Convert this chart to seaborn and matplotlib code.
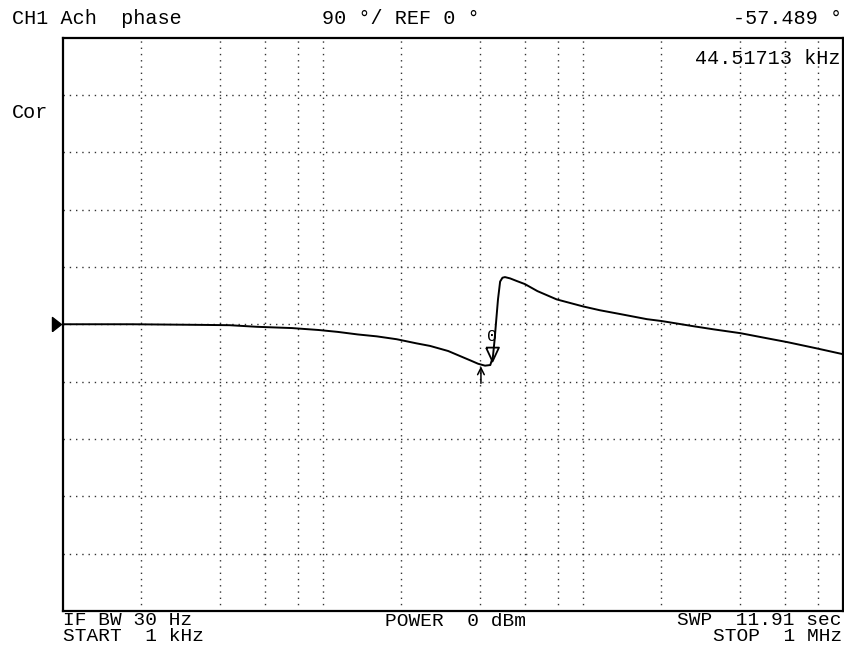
import matplotlib
matplotlib.use("Agg")
import matplotlib.pyplot as plt
import matplotlib.transforms as mtransforms
from matplotlib.ticker import NullLocator
import numpy as np
import pandas as pd
import seaborn as sns

# Phase sweep of channel 1, 1 kHz .. 1 MHz (log), 90 deg/div, ref 0 deg
freq_khz = [1.0, 1.84, 3.42, 4.38, 5.57, 7.6, 9.6, 11.4, 13.6, 16.1, 19.2,
            22.9, 25.8, 30.3, 33.7, 37.0, 39.5, 42.0, 44.0, 44.51713, 45.0,
            45.7, 46.3, 47.1, 48.0, 49.0, 50.1, 52.4, 55.5, 59.8, 66.8, 79.2,
            100.0, 116.0, 139.0, 176.0, 201.0, 265.0, 318.0, 403.0, 510.0,
            610.0, 795.0, 1000.0]
phase_deg = [0.0, 0.0, -1.0, -1.5, -4.0, -6.0, -9.0, -12.0, -16.0, -19.0,
             -23.5, -30.0, -34.0, -42.0, -50.0, -57.0, -62.0, -65.0, -64.0,
             -57.489, -52.0, -25.0, 3.0, 39.0, 67.0, 73.0, 74.0, 72.0, 68.0,
             63.0, 52.0, 39.0, 28.0, 22.0, 16.0, 8.0, 5.0, -3.0, -8.0, -14.0,
             -22.0, -28.0, -38.0, -47.0]

# Marker readout
marker_freq_khz = 44.51713
marker_phase_deg = -57.489
search_freq_khz = 40.5
search_phase_deg = -66.0

# Graticule
grid_freqs_khz = [2, 4, 6, 8, 10, 20, 40, 60, 80, 100, 200, 400, 600, 800]
grid_phases = [-360, -270, -180, -90, 0, 90, 180, 270, 360]

sns.set_style("white")
plt.rcParams["font.family"] = ["Liberation Mono", "DejaVu Sans Mono"]

W, H = 845, 648
FS = 14.5
fig = plt.figure(figsize=(W / 100, H / 100), dpi=100)
ax = fig.add_axes([63 / W, 1 - 611.0 / H, 780 / W, 573.5 / H])

df = pd.DataFrame({"freq": freq_khz, "phase": phase_deg})
sns.lineplot(data=df, x="freq", y="phase", ax=ax, color="black",
             linewidth=1.4, estimator=None, sort=False)

ax.set_xscale("log")
ax.set_xlim(1, 1000)
ax.set_ylim(-450, 450)
ax.xaxis.set_major_locator(NullLocator())
ax.xaxis.set_minor_locator(NullLocator())
ax.yaxis.set_major_locator(NullLocator())
ax.set_xlabel("")
ax.set_ylabel("")

dots = (0, (1, 3.5))
for f in grid_freqs_khz:
    ax.axvline(f, ls=dots, lw=1.0, color="#333333", zorder=1)
for p in grid_phases:
    ax.axhline(p, ls=dots, lw=1.0, color="#333333", zorder=1)

for s in ax.spines.values():
    s.set_visible(True)
    s.set_color("black")
    s.set_linewidth(1.6)

# Reference-level pointer at the left edge
blend = mtransforms.blended_transform_factory(ax.transAxes, ax.transData)
ax.plot([-0.002], [0], marker=[(-9, -7), (0, 0), (-9, 7), (-9, -7)],
        ms=13, color="black", transform=blend, clip_on=False, zorder=5)

# Active marker: open triangle with its tip on the trace, number above
ax.plot([marker_freq_khz], [marker_phase_deg],
        marker=[(-6.5, 14), (6.5, 14), (0, 0), (-6.5, 14)], ms=20,
        mfc="none", mec="black", mew=1.3, ls="none", zorder=5)
ax.annotate("0", xy=(marker_freq_khz, marker_phase_deg), xytext=(0, 24),
            textcoords="offset pixels", ha="center", va="center",
            fontsize=12, color="black")

# Search pointer below the trace minimum
ax.annotate("", xy=(search_freq_khz, search_phase_deg), xytext=(0, -17),
            textcoords="offset pixels",
            arrowprops=dict(arrowstyle="->", lw=1.1, color="black",
                            shrinkA=0, shrinkB=0, mutation_scale=12))


def label(x, y, s, ha="left", fs=FS, **kw):
    fig.text(x / W, 1 - y / H, s, ha=ha, va="center", fontsize=fs,
             color="black", **kw)


label(12, 18, "CH1 Ach  phase")
label(322, 18, "90 °/ REF 0 °")
label(842, 18, "-57.489 °", ha="right")
label(12, 113, "Cor")
label(841, 59, "44.51713 kHz", ha="right")
label(63, 628.5, "IF BW 30 Hz\nSTART  1 kHz", fs=14, linespacing=0.9)
label(385, 621, "POWER  0 dBm", fs=14)
label(842, 628.5, "SWP  11.91 sec\nSTOP  1 MHz", ha="right", fs=14,
      multialignment="right", linespacing=0.9)

fig.savefig("out.png", dpi=100, facecolor="white")
